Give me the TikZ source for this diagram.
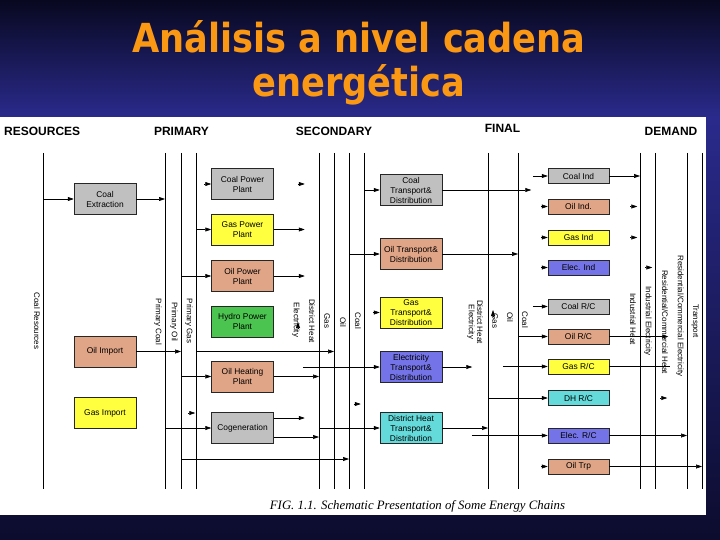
\documentclass[tikz,border=0pt]{standalone}
\usepackage{fontspec}
\setmainfont{Liberation Sans}
\newfontfamily\titlefont[FakeStretch=0.88]{DejaVu Sans}
\newfontfamily\captionfont{Liberation Serif}
\usetikzlibrary{arrows.meta, positioning}

\definecolor{slidedark}{RGB}{8,8,32}
\definecolor{slideblue}{RGB}{42,42,140}
\definecolor{slidemid}{RGB}{52,52,168}
\definecolor{slidefoot}{RGB}{12,12,46}
\definecolor{titleorange}{RGB}{250,152,20}
\definecolor{coalgray}{RGB}{192,192,192}
\definecolor{oilsalmon}{RGB}{224,164,134}
\definecolor{gasyellow}{RGB}{255,255,64}
\definecolor{hydrogreen}{RGB}{76,196,80}
\definecolor{elecblue}{RGB}{116,116,232}
\definecolor{heatcyan}{RGB}{100,218,218}

\tikzset{
    % Conversion and transport boxes (resources, primary, secondary)
    chain box/.style={draw=black!85, line width=0.5pt, minimum width=62pt, minimum height=31pt,
        inner sep=1pt, align=center, font=\fontsize{8.4}{10}\selectfont},
    % Final energy boxes - flat ones
    final box/.style={chain box, minimum width=61pt, minimum height=15pt},
    % Fill per energy carrier
    coal fill/.style={fill=coalgray},
    oil fill/.style={fill=oilsalmon},
    gas fill/.style={fill=gasyellow},
    hydro fill/.style={fill=hydrogreen},
    elec fill/.style={fill=elecblue},
    heat fill/.style={fill=heatcyan},
    % Vertical carrier lines
    bus/.style={line width=0.7pt},
    bus label/.style={rotate=-90, inner sep=0pt, font=\fontsize{8}{9}\selectfont},
    % Energy flows - small filled heads
    flow/.style={line width=0.6pt, -{Triangle[length=6pt,width=4pt]}},
    % Column titles
    column head/.style={inner sep=0pt, font=\fontsize{12}{12}\selectfont\bfseries}
}

\begin{document}
\begin{tikzpicture}[x=1pt, y=-1pt]
    \useasboundingbox (0,0) rectangle (720,540);

    % --- Slide background & title ---
    \shade[top color=slidedark, bottom color=slideblue] (0,0) rectangle (720,117);
    \shade[top color=slideblue, middle color=slidemid, bottom color=slidefoot] (0,117) rectangle (720,540);
    \fill[white] (0,117) rectangle (706,515);

    \node[anchor=base, inner sep=0pt, text=titleorange, font=\titlefont\bfseries\fontsize{40}{44}\selectfont]
        (title1) at (359,53) {Análisis a nivel cadena};
    \node[anchor=base, inner sep=0pt, text=titleorange, font=\titlefont\bfseries\fontsize{40}{44}\selectfont]
        (title2) at (359,97) {energética};

    % --- Column heads ---
    \node[column head, anchor=west] (hres) at (4,131) {RESOURCES};
    \node[column head] (hpri) at (181.5,131) {PRIMARY};
    \node[column head] (hsec) at (334,131) {SECONDARY};
    \node[column head] (hfin) at (502.5,128) {FINAL};
    \node[column head] (hdem) at (671,131) {DEMAND};

    % --- Carrier lines ---
    \foreach \x/\n in {43/res, 165/pcoal, 181/poil, 196/pgas, 319/sdh, 334/sgas, 349/soil, 364/scoal,
                       488/fdh, 518/foil, 640/dih, 655/die, 687/drce, 702/dtrp} {
        \coordinate (\n-t) at (\x,153);
        \coordinate (\n-b) at (\x,489);
        \draw[bus] (\n-t) -- (\n-b);
    }

    % Line labels
    \node[bus label] (lres) at (37,321) {Coal Resources};
    \node[bus label] (lpcoal) at (158,322) {Primary Coal};
    \node[bus label] (lpoil) at (174,322) {Primary Oil};
    \node[bus label] (lpgas) at (189,321) {Primary Gas};
    \node[bus label] (lselec) at (296,320) {Electricity};
    \node[bus label] (lsdh) at (312,321) {District Heat};
    \node[bus label] (lsgas) at (327,321) {Gas};
    \node[bus label] (lsoil) at (343,322) {Oil};
    \node[bus label] (lscoal) at (358,321) {Coal};
    \node[bus label] (lfelec) at (471,322) {Electricity};
    \node[bus label] (lfdh) at (480,322) {District Heat};
    \node[bus label] (lfgas) at (495,321) {Gas};
    \node[bus label] (lfoil) at (510,317) {Oil};
    \node[bus label] (lfcoal) at (525,320) {Coal};
    \node[bus label] (ldih) at (633,319) {Industrial Heat};
    \node[bus label] (ldie) at (648,321) {Industrial Electricity};
    \node[bus label] (ldrch) at (665,322) {Residential/Commercial Heat};
    \node[bus label] (ldrce) at (680,316) {Residential/Commercial Electricity};
    \node[bus label] (ldtrp) at (695,321) {Transport};

    % --- Boxes ---
    % Resources
    \node[chain box, coal fill] (coalext) at (105,199) {Coal\\Extraction};
    \node[chain box, oil fill] (oilimp) at (105,351.5) {Oil Import};
    \node[chain box, gas fill] (gasimp) at (105,413) {Gas Import};
    % Primary
    \node[chain box, coal fill] (coalpp) at (242.5,184) {Coal Power\\Plant};
    \node[chain box, gas fill] (gaspp) at (242.5,229.5) {Gas Power\\Plant};
    \node[chain box, oil fill] (oilpp) at (242.5,276) {Oil Power\\Plant};
    \node[chain box, hydro fill] (hydropp) at (242.5,321.5) {Hydro Power\\Plant};
    \node[chain box, oil fill] (oilhp) at (242.5,376.5) {Oil Heating\\Plant};
    \node[chain box, coal fill] (cogen) at (242.5,428) {Cogeneration};
    % Secondary
    \node[chain box, coal fill] (coaltd) at (411,190) {Coal\\Transport\&\\Distribution};
    \node[chain box, oil fill] (oiltd) at (411,254) {Oil Transport\&\\Distribution};
    \node[chain box, gas fill] (gastd) at (411,312.5) {Gas\\Transport\&\\Distribution};
    \node[chain box, elec fill] (electd) at (411,367) {Electricity\\Transport\&\\Distribution};
    \node[chain box, heat fill] (dhtd) at (411,428) {District Heat\\Transport\&\\Distribution};
    % Final
    \node[final box, coal fill] (coalind) at (578.5,176) {Coal Ind};
    \node[final box, oil fill] (oilind) at (578.5,206.5) {Oil Ind.};
    \node[final box, gas fill] (gasind) at (578.5,237.5) {Gas Ind};
    \node[final box, elec fill] (elecind) at (578.5,267.5) {Elec. Ind};
    \node[final box, coal fill] (coalrc) at (578.5,306.5) {Coal R/C};
    \node[final box, oil fill] (oilrc) at (578.5,336.5) {Oil R/C};
    \node[final box, gas fill] (gasrc) at (578.5,366.5) {Gas R/C};
    \node[final box, heat fill] (dhrc) at (578.5,398) {DH R/C};
    \node[final box, elec fill] (elecrc) at (578.5,435.5) {Elec. R/C};
    \node[final box, oil fill] (oiltrp) at (578.5,466.5) {Oil Trp};

    % --- Flows: resources -> primary ---
    \draw[flow] (coalext.west -| res-t) -- (coalext.west);
    \draw[flow] (coalext.east) -- (coalext.east -| pcoal-t);
    \draw[flow] (oilimp.east) -- (oilimp.east -| poil-t);
    \draw[flow] ([xshift=52]gasimp.east) -- ([xshift=59]gasimp.east);

    % --- Flows: primary lines -> plants ---
    \draw[flow] ([xshift=-7]coalpp.west) -- (coalpp.west);
    \draw[flow] (gaspp.west -| pgas-t) -- (gaspp.west);
    \draw[flow] (oilpp.west -| poil-t) -- (oilpp.west);
    \draw[flow] (oilhp.west -| poil-t) -- (oilhp.west);
    \draw[flow] (cogen.west -| pcoal-t) -- (cogen.west);
    \draw[flow] (oilimp.east -| pgas-t) -- (oilimp.east -| sgas-t);
    \coordinate (oilfeed) at (181,459);
    \draw[flow] (oilfeed) -- (oilfeed -| soil-t);

    % --- Flows: plants -> secondary ---
    \draw[flow] ([xshift=24]coalpp.east) -- ([xshift=31]coalpp.east);
    \draw[flow] (gaspp.east) -- ([xshift=31]gaspp.east);
    \draw[flow] (oilpp.east) -- ([xshift=31]oilpp.east);
    \draw[flow] (oilhp.east) -- (oilhp.east -| sdh-t);
    \coordinate (cogenhi) at ([yshift=10]cogen.east);
    \coordinate (cogenlo) at ([yshift=-9]cogen.east);
    \draw[flow] (cogenhi) -- ([xshift=31]cogenhi);
    \draw[flow] (cogenlo) -- (cogenlo -| sdh-t);

    % --- Flows: secondary lines -> transport & distribution ---
    \draw[flow] (coaltd.west -| scoal-t) -- (coaltd.west);
    \draw[flow] (oiltd.west -| soil-t) -- (oiltd.west);
    \draw[flow] ([xshift=-7]gastd.west) -- (gastd.west);
    \draw[flow] ([xshift=-77]electd.west) -- (electd.west);
    \draw[flow] (dhtd.west -| sdh-t) -- (dhtd.west);
    \draw[flow] ([xshift=-26,yshift=24]dhtd.west) -- ([xshift=-19,yshift=24]dhtd.west);
    \draw[flow] ([xshift=2,yshift=-9]lselec.center) -- ([xshift=2,yshift=-2]lselec.center);

    % --- Flows: transport & distribution -> final ---
    \draw[flow] (coaltd.east) -- ([xshift=89]coaltd.east);
    \draw[flow] (oiltd.east) -- (oiltd.east -| foil-t);
    \draw[flow] (electd.east) -- ([xshift=30]electd.east);
    \draw[flow] (dhtd.east) -- (dhtd.east -| fdh-t);
    \draw[flow] ([xshift=-2,yshift=4]lfgas.center) -- ([xshift=-2,yshift=11]lfgas.center);

    % --- Flows: final lines -> final boxes ---
    \draw[flow] ([xshift=-15]coalind.west) -- (coalind.west);
    \draw[flow] ([xshift=-7]oilind.west) -- (oilind.west);
    \draw[flow] ([xshift=-7]gasind.west) -- (gasind.west);
    \draw[flow] ([xshift=-7]elecind.west) -- (elecind.west);
    \draw[flow] ([xshift=-15]coalrc.west) -- (coalrc.west);
    \draw[flow] (oilrc.west -| foil-t) -- (oilrc.west);
    \draw[flow] ([xshift=-45]gasrc.west) -- (gasrc.west);
    \draw[flow] (dhrc.west -| fdh-t) -- (dhrc.west);
    \draw[flow] ([xshift=-76]elecrc.west) -- (elecrc.west);
    \draw[flow] ([xshift=-7]oiltrp.west) -- (oiltrp.west);

    % --- Flows: final boxes -> demand ---
    \draw[flow] (coalind.east) -- (coalind.east -| dih-t);
    \draw[flow] ([xshift=21]oilind.east) -- ([xshift=28]oilind.east);
    \draw[flow] ([xshift=21]gasind.east) -- ([xshift=28]gasind.east);
    \draw[flow] ([xshift=36]elecind.east) -- ([xshift=43]elecind.east);
    \draw[flow] (oilrc.east) -- ([xshift=59]oilrc.east);
    \draw[bus, line width=0.6pt] (gasrc.east) -- ([xshift=61]gasrc.east);
    \draw[flow] ([xshift=51]dhrc.east) -- ([xshift=58]dhrc.east);
    \draw[flow] (elecrc.east) -- (elecrc.east -| drce-t);
    \draw[flow] (oiltrp.east) -- (oiltrp.east -| dtrp-t);

    % Caption
    \node[inner sep=0pt, font=\captionfont\itshape\fontsize{12.8}{13}\selectfont] (caption) at (417.5,506)
        {FIG. 1.1. Schematic Presentation of Some Energy Chains};
\end{tikzpicture}
\end{document}
